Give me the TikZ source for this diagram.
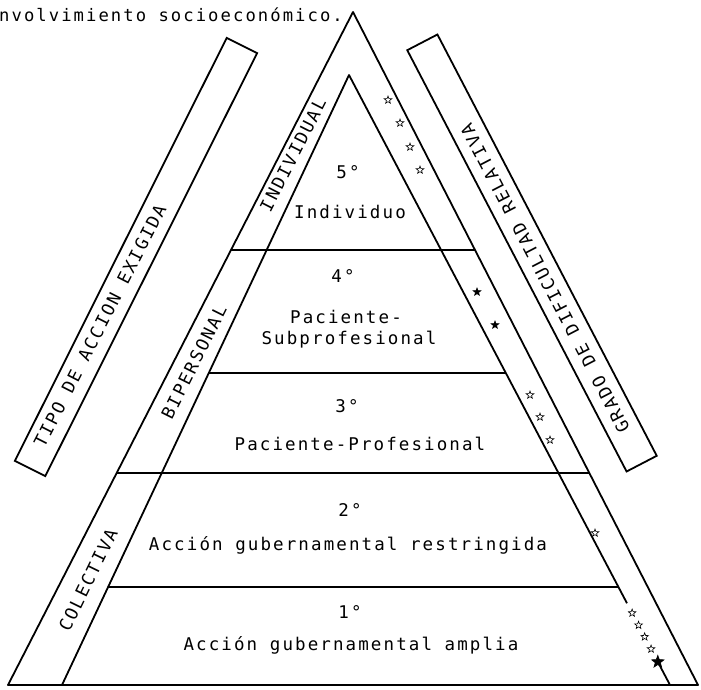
\documentclass[tikz,border=0pt]{standalone}
\usepackage{fontspec}
\newfontfamily\maquina[LetterSpace=12]{DejaVu Sans Mono}
\usetikzlibrary{calc,shapes.geometric}
\tikzset{
    borda/.style={line width=1.8pt, line join=round},
    divisao/.style={line width=1.3pt},
    faixa/.style={
        rectangle,
        draw,
        line width=1.8pt,
        minimum height=34pt,
        inner sep=0pt
    },
    texto/.style={font=\maquina\fontsize{17.5pt}{20pt}\selectfont, inner sep=0pt},
    estrela/.style={
        star,
        star points=5,
        star point ratio=2.4,
        draw,
        line width=0.6pt,
        inner sep=0pt,
        minimum size=8pt
    },
    estrelaCheia/.style={estrela, fill=black},
    estrelaGrande/.style={estrela, fill=black, minimum size=13pt}
}

\begin{document}
\begin{tikzpicture}[x=1pt, y=-1pt]
    \useasboundingbox (0,0) rectangle (701,690);

    % triangulos
    \coordinate (cimaExt) at (353,12);
    \coordinate (baseExtEsq) at (8,685);
    \coordinate (baseExtDir) at (698,685);
    \coordinate (cimaInt) at (349,75);
    \coordinate (baseIntEsq) at (62,685);
    \coordinate (baseIntDir) at (670,685);

    \draw[borda] (baseExtEsq) -- (cimaExt) -- (baseExtDir) -- cycle;
    \draw[borda] (baseIntEsq) -- (cimaInt) -- ($(cimaInt)!0.866!(baseIntDir)$);
    \draw[borda] ($(cimaInt)!0.966!(baseIntDir)$) -- (baseIntDir);

    % divisoes dos niveis
    \draw[divisao] ($(cimaExt)!0.3536!(baseExtEsq)$) -- ($(cimaExt)!0.3536!(baseExtDir)$);
    \draw[divisao] ($(cimaInt)!0.4885!(baseIntEsq)$) -- ($(cimaInt)!0.4885!(baseIntDir)$);
    \draw[divisao] ($(cimaExt)!0.6850!(baseExtEsq)$) -- ($(cimaExt)!0.6850!(baseExtDir)$);
    \draw[divisao] ($(cimaInt)!0.8393!(baseIntEsq)$) -- ($(cimaInt)!0.8393!(baseIntDir)$);

    % faixas laterais
    \node[faixa, minimum width=473pt, rotate=63.4] (tipo) at (136,257) {};
    \node[faixa, minimum width=475pt, rotate=117.5] (grado) at (532,253) {};
    \node[texto, rotate=63] (tipoTxt) at (100,326) {TIPO DE ACCION EXIGIDA};
    \node[texto, rotate=117.5] (gradoTxt) at (545,278) {GRADO DE DIFICULTAD RELATIVA};

    % tipo de accion
    \node[texto, rotate=63] (individual) at (293,155) {INDIVIDUAL};
    \node[texto, rotate=63.5] (bipersonal) at (194,362) {BIPERSONAL};
    \node[texto, rotate=64] (colectiva) at (88,580) {COLECTIVA};

    % niveles
    \node[texto, font=\maquina\fontsize{17.2pt}{19pt}\selectfont, anchor=base west] (titulo)
        at (-1,22) {nvolvimiento socioeconómico.};
    \node[texto] (n5) at (348,172) {5°};
    \node[texto] (individuo) at (350,212) {Individuo};
    \node[texto] (n4) at (343,276) {4°};
    \node[texto] (paciente) at (346,317) {Paciente-};
    \node[texto] (subprof) at (349,340) {Subprofesional};
    \node[texto] (n3) at (347,406) {3°};
    \node[texto] (pacprof) at (360,444) {Paciente-Profesional};
    \node[texto] (n2) at (350,510) {2°};
    \node[texto] (restringida) at (348,545) {Acción gubernamental restringida};
    \node[texto] (n1) at (350,612) {1°};
    \node[texto] (amplia) at (351,645) {Acción gubernamental amplia};

    % grado de dificultad
    \foreach \px/\py [count=\i] in {388/100, 400/123, 410/147, 420/170}
        \node[estrela] (est5-\i) at (\px,\py) {};
    \foreach \px/\py [count=\i] in {477/292, 495/325}
        \node[estrelaCheia] (est4-\i) at (\px,\py) {};
    \foreach \px/\py [count=\i] in {530/395, 540/417, 550/440}
        \node[estrela] (est3-\i) at (\px,\py) {};
    \node[estrela] (est2-1) at (595,533) {};
    \foreach \f [count=\i] in {0.882, 0.902, 0.921, 0.941}
        \node[estrela] (est1-\i) at ($(cimaInt)!\f!(baseIntDir)$) {};
    \node[estrelaGrande] (est1-grande) at ($(cimaInt)!0.962!(baseIntDir)$) {};
\end{tikzpicture}
\end{document}
